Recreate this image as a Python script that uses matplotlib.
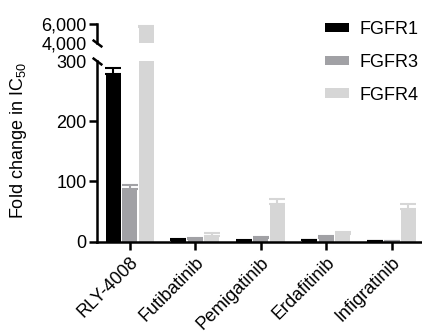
import matplotlib
matplotlib.use("Agg")
import matplotlib.pyplot as plt
import numpy as np

plt.rcParams['font.family'] = ['Liberation Sans', 'DejaVu Sans']
plt.rcParams['font.size'] = 13

drugs = ["RLY-4008", "Futibatinib", "Pemigatinib", "Erdafitinib", "Infigratinib"]
series = ["FGFR1", "FGFR3", "FGFR4"]
colors = ["#000000", "#a1a1a5", "#d6d6d6"]
fgfr1 = [278, 3, 1.5, 2, 0.5]
fgfr1_err = [11, 1, 0.5, 0.5, 0.3]
fgfr3 = [88, 4, 6, 6, 1]
fgfr3_err = [6, 1, 1.5, 2.5, 0.3]
fgfr4 = [5700, 9, 62, 12, 54]
fgfr4_err = [130, 5, 8, 3.5, 8]

values = [fgfr1, fgfr3, fgfr4]
errors = [fgfr1_err, fgfr3_err, fgfr4_err]

fig = plt.figure(figsize=(4.22, 3.32), dpi=100)
W, H = 422, 332
x0, x1 = 97, 421
# bottom axis 0..300, top axis 4000..6000 (pixel positions from the reference)
ax = fig.add_axes([x0 / W, (H - 241.5) / H, (x1 - x0) / W, (241.5 - 61) / H])
axt = fig.add_axes([x0 / W, (H - 43) / H, (x1 - x0) / W, (43 - 24) / H])

x = np.arange(len(drugs))
w = 0.23
offs = [-0.255, 0, 0.255]
lw = 1.8
for a in (ax, axt):
    for k in range(3):
        v = np.array(values[k], dtype=float)
        e = np.array(errors[k], dtype=float)
        a.bar(x + offs[k], v, width=w, color=colors[k], label=series[k], zorder=2)
        a.errorbar(x + offs[k], v, yerr=[np.zeros_like(e), e], fmt='none',
                   ecolor=colors[k], elinewidth=1.5, capsize=5.5, capthick=1.5,
                   zorder=1, clip_on=True)
    a.set_xlim(-0.5, 4.45)
    a.spines['top'].set_visible(False)
    a.spines['right'].set_visible(False)
    a.spines['left'].set_linewidth(lw)
    a.tick_params(axis='y', direction='out', length=5.5, width=lw, labelsize=13, pad=2)

ax.set_ylim(0, 300)
ax.set_yticks([0, 100, 200, 300])
ax.spines['bottom'].set_linewidth(lw)
ax.set_xticks(x)
ax.set_xticklabels(drugs, rotation=45, ha='right', rotation_mode='anchor')
ax.tick_params(axis='x', direction='out', length=6, width=lw, labelsize=13, pad=3)
ax.get_yticklines()[6].set_visible(False)

axt.set_ylim(4000, 6000)
axt.set_yticks([4000, 6000])
axt.set_yticklabels(["4,000", "6,000"])
axt.get_yticklines()[0].set_visible(False)
axt.spines['bottom'].set_visible(False)
axt.set_xticks([])

# break marks
kw = dict(marker=[(-1, 0.75), (1, -0.75)], markersize=7, linestyle='none',
          color='k', mew=lw, clip_on=False)
axt.plot([0], [0], transform=axt.transAxes, **kw)
ax.plot([0], [1], transform=ax.transAxes, **kw)

fig.text(19 / W, 1 - 141 / H, "Fold change in IC$_{\\mathregular{50}}$",
         rotation=90, ha='center', va='center', fontsize=13)

handles, labels = ax.get_legend_handles_labels()
fig.legend(handles, labels, loc='upper left', bbox_to_anchor=(325 / W, 1 - 21 / H),
           frameon=False, borderpad=0, borderaxespad=0, handlelength=1.35,
           handleheight=0.45, handletextpad=0.55, labelspacing=0.88, fontsize=13)

fig.savefig("out.png", dpi=100)
